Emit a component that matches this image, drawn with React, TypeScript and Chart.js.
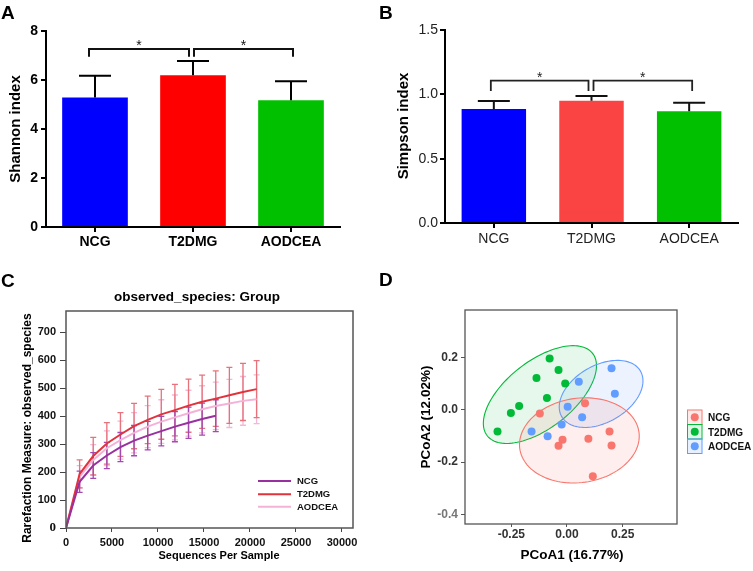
import React, { useEffect, useRef } from 'react';
import { Chart, registerables } from 'chart.js';
Chart.register(...registerables);

const FONT = "'Liberation Sans', Arial, Helvetica, sans-serif";

// ---------- Panel A / B data ----------
const groups = ['NCG', 'T2DMG', 'AODCEA'];
const shannonMean = [5.29, 6.19, 5.17];
const shannonSd = [0.88, 0.59, 0.78];
const simpsonMean = [0.886, 0.951, 0.868];
const simpsonSd = [0.062, 0.036, 0.067];
const shannonTicks = [0, 2, 4, 6, 8];
const simpsonTicks = [0, 0.5, 1.0, 1.5];

// ---------- Panel C data (rarefaction) ----------
const depth = [0, 1480, 2960, 4440, 5920, 7400, 8880, 10360, 11840, 13320, 14800, 16280, 17760, 19240, 20720];
const ncgObs = [0, 165, 223, 259, 289, 312, 330, 346, 362, 376, 389, 401];
const ncgSd = [0, 38, 46, 47, 52, 54, 51, 53, 54, 56, 57, 57];
const t2dmgObs = [0, 193, 257, 302, 334, 364, 386, 406, 421, 437, 451, 462, 474, 486, 496];
const t2dmgSd = [0, 50, 67, 74, 78, 81, 85, 89, 92, 95, 95, 99, 100, 102, 102];
const aodceaObs = [0, 183, 243, 285, 314, 340, 362, 380, 395, 410, 424, 436, 445, 454, 460];
const aodceaSd = [0, 40, 55, 62, 68, 72, 75, 78, 80, 82, 84, 85, 86, 87, 87];
const seqTicks = [0, 5000, 10000, 15000, 20000, 25000, 30000];
const obsTicks = [0, 100, 200, 300, 400, 500, 600, 700];

// ---------- Panel D data (PCoA) ----------
const ncgPc1 = [0.081, -0.122, -0.020, -0.038, 0.096, 0.191, 0.200, 0.116];
const ncgPc2 = [0.026, -0.014, -0.114, -0.137, -0.110, -0.083, -0.136, -0.254];
const t2dmgPc1 = [-0.312, -0.252, -0.215, -0.137, -0.078, -0.038, -0.008, -0.090];
const t2dmgPc2 = [-0.083, -0.012, 0.015, 0.122, 0.197, 0.153, 0.101, 0.046];
const aodceaPc1 = [0.200, 0.215, 0.053, 0.003, 0.068, -0.024, -0.159, -0.087];
const aodceaPc2 = [0.160, 0.062, 0.108, 0.012, -0.028, -0.056, -0.083, -0.101];
// ellipse: center (cx, cy), semi-axis vectors u and v, in data units
const ncgEllipse = [0.0556, -0.1167, 0.2676, 0.0321, 0.0263, -0.16];
const t2dmgEllipse = [-0.1216, 0.059, 0.2366, 0.1578, 0.0925, -0.101];
const aodceaEllipse = [0.1532, 0.0615, 0.1769, 0.0872, 0.0638, -0.0944];
const pc1Ticks = [-0.25, 0, 0.25];
const pc2Ticks = [-0.4, -0.2, 0, 0.2];

type TextItem = {
  text: string; x: number; y: number; size: number; weight?: string; color?: string;
  rotate?: boolean; align?: CanvasTextAlign; baseline?: CanvasTextBaseline; family?: string;
};

const textPlugin = (items: TextItem[]) => ({
  id: 'texts',
  afterDraw(chart: any) {
    const ctx = chart.ctx as CanvasRenderingContext2D;
    items.forEach((t) => {
      ctx.save();
      ctx.font = `${t.weight || 'bold'} ${t.size}px ${t.family || FONT}`;
      ctx.fillStyle = t.color || '#000';
      ctx.textAlign = t.align || 'center';
      ctx.textBaseline = t.baseline || 'middle';
      ctx.translate(t.x, t.y);
      if (t.rotate) ctx.rotate(-Math.PI / 2);
      ctx.fillText(t.text, 0, 0);
      ctx.restore();
    });
  },
});

const barErrPlugin = (sd: number[], capHalf: number, color: string) => ({
  id: 'barErr',
  afterDatasetsDraw(chart: any) {
    const ctx = chart.ctx as CanvasRenderingContext2D;
    const meta = chart.getDatasetMeta(0);
    const ys = chart.scales.y;
    const vals = chart.data.datasets[0].data as number[];
    ctx.save();
    ctx.strokeStyle = color;
    ctx.lineWidth = 2;
    meta.data.forEach((el: any, i: number) => {
      const x = el.x;
      const y0 = ys.getPixelForValue(vals[i]);
      const y1 = ys.getPixelForValue(vals[i] + sd[i]);
      ctx.beginPath();
      ctx.moveTo(x, y0);
      ctx.lineTo(x, y1);
      ctx.moveTo(x - capHalf, y1);
      ctx.lineTo(x + capHalf, y1);
      ctx.stroke();
    });
    ctx.restore();
  },
});

const bracketPlugin = (
  defs: { a: number; b: number; da: number; db: number }[],
  yTop: number, yDrop: number, lw: number, color: string
) => ({
  id: 'brackets',
  afterDraw(chart: any) {
    const ctx = chart.ctx as CanvasRenderingContext2D;
    const ys = chart.scales.y;
    const meta = chart.getDatasetMeta(0);
    const top = ys.getPixelForValue(yTop);
    const drop = ys.getPixelForValue(yDrop);
    ctx.save();
    ctx.strokeStyle = color;
    ctx.lineWidth = lw;
    defs.forEach((d) => {
      const xa = meta.data[d.a].x + d.da;
      const xb = meta.data[d.b].x + d.db;
      ctx.beginPath();
      ctx.moveTo(xa, drop);
      ctx.lineTo(xa, top);
      ctx.lineTo(xb, top);
      ctx.lineTo(xb, drop);
      ctx.stroke();
      ctx.font = `14px ${FONT}`;
      ctx.fillStyle = color;
      ctx.textAlign = 'center';
      ctx.textBaseline = 'alphabetic';
      ctx.fillText('*', (xa + xb) / 2, top + 1);
    });
    ctx.restore();
  },
});

const boxPlugin = (color: string, lw: number) => ({
  id: 'box',
  afterDraw(chart: any) {
    const { left, top, right, bottom } = chart.chartArea;
    const ctx = chart.ctx as CanvasRenderingContext2D;
    ctx.save();
    ctx.strokeStyle = color;
    ctx.lineWidth = lw;
    ctx.strokeRect(left, top, right - left, bottom - top);
    ctx.restore();
  },
});

const C_NCG = '#98309F';
const C_T2 = '#E2323C';
const C_AO = '#F4B2D8';
const E_NCG = '#A24AB0';
const E_T2 = '#E8727C';
const E_AO = '#F3B8D6';

const rareErrPlugin = {
  id: 'rareErr',
  beforeDatasetsDraw(chart: any) {
    const ctx = chart.ctx as CanvasRenderingContext2D;
    const xs = chart.scales.x;
    const ys = chart.scales.y;
    const series: [number[], number[], string][] = [
      [aodceaObs, aodceaSd, E_AO],
      [t2dmgObs, t2dmgSd, E_T2],
      [ncgObs, ncgSd, E_NCG],
    ];
    ctx.save();
    ctx.lineWidth = 1.3;
    series.forEach(([obs, sd, col]) => {
      ctx.strokeStyle = col;
      for (let i = 1; i < obs.length; i++) {
        const x = xs.getPixelForValue(depth[i]);
        const y1 = ys.getPixelForValue(obs[i] + sd[i]);
        const y2 = ys.getPixelForValue(obs[i] - sd[i]);
        ctx.beginPath();
        ctx.moveTo(x, y1);
        ctx.lineTo(x, y2);
        ctx.moveTo(x - 3, y1);
        ctx.lineTo(x + 3, y1);
        ctx.moveTo(x - 3, y2);
        ctx.lineTo(x + 3, y2);
        ctx.stroke();
      }
    });
    ctx.restore();
  },
};

const rareLegend = {
  id: 'rareLegend',
  afterDraw(chart: any) {
    const ctx = chart.ctx as CanvasRenderingContext2D;
    const items: [string, string, number][] = [
      ['NCG', C_NCG, 211],
      ['T2DMG', C_T2, 224.3],
      ['AODCEA', C_AO, 236.7],
    ];
    ctx.save();
    items.forEach(([t, c, y]) => {
      ctx.strokeStyle = c;
      ctx.lineWidth = 2;
      ctx.beginPath();
      ctx.moveTo(258, y);
      ctx.lineTo(291, y);
      ctx.stroke();
      ctx.fillStyle = '#111';
      ctx.font = `bold 9.5px ${FONT}`;
      ctx.textAlign = 'left';
      ctx.textBaseline = 'middle';
      ctx.fillText(t, 297, y + 0.5);
    });
    ctx.restore();
  },
};

const P_NCG = '#F8766D';
const P_T2 = '#00BA38';
const P_AO = '#619CFF';

const ellipsePlugin = {
  id: 'ellipses',
  beforeDatasetsDraw(chart: any) {
    const ctx = chart.ctx as CanvasRenderingContext2D;
    const xs = chart.scales.x;
    const ys = chart.scales.y;
    const defs: [number[], string, string][] = [
      [t2dmgEllipse, P_T2, 'rgba(0,186,56,0.10)'],
      [aodceaEllipse, P_AO, 'rgba(97,156,255,0.12)'],
      [ncgEllipse, P_NCG, 'rgba(248,118,109,0.12)'],
    ];
    ctx.save();
    defs.forEach(([e, stroke, fill]) => {
      const [cx, cy, ux, uy, vx, vy] = e;
      ctx.beginPath();
      for (let k = 0; k <= 120; k++) {
        const t = (k / 120) * Math.PI * 2;
        const px = xs.getPixelForValue(cx + ux * Math.cos(t) + vx * Math.sin(t));
        const py = ys.getPixelForValue(cy + uy * Math.cos(t) + vy * Math.sin(t));
        if (k === 0) ctx.moveTo(px, py);
        else ctx.lineTo(px, py);
      }
      ctx.closePath();
      ctx.fillStyle = fill;
      ctx.fill();
      ctx.strokeStyle = stroke;
      ctx.lineWidth = 1.1;
      ctx.stroke();
    });
    ctx.restore();
  },
};

const pcoaLegend = {
  id: 'pcoaLegend',
  afterDraw(chart: any) {
    const ctx = chart.ctx as CanvasRenderingContext2D;
    const items: [string, string, string, number][] = [
      ['NCG', P_NCG, 'rgba(248,118,109,0.15)', 140],
      ['T2DMG', P_T2, 'rgba(0,186,56,0.12)', 154.5],
      ['AODCEA', P_AO, 'rgba(97,156,255,0.15)', 169],
    ];
    ctx.save();
    items.forEach(([t, c, f, y]) => {
      ctx.fillStyle = f;
      ctx.fillRect(311.5, y, 14.5, 14.5);
      ctx.strokeStyle = c;
      ctx.lineWidth = 1;
      ctx.strokeRect(311.5, y, 14.5, 14.5);
      ctx.fillStyle = c;
      ctx.beginPath();
      ctx.arc(318.75, y + 7.25, 4, 0, Math.PI * 2);
      ctx.fill();
      ctx.fillStyle = '#111';
      ctx.font = `bold 10px ${FONT}`;
      ctx.textAlign = 'left';
      ctx.textBaseline = 'middle';
      ctx.fillText(t, 332, y + 8.5);
    });
    ctx.restore();
  },
};

const setTicks = (arr: number[]) => (s: any) => {
  s.ticks = arr.map((v) => ({ value: v }));
};

function makeA(): any {
  return {
    type: 'bar',
    data: {
      labels: groups,
      datasets: [{
        data: shannonMean,
        backgroundColor: ['#0000FF', '#FF0000', '#00C000'],
        borderWidth: 0,
        barPercentage: 0.67,
        categoryPercentage: 1,
      }],
    },
    options: {
      animation: false,
      responsive: false,
      layout: { padding: { left: 0, top: 31, right: 36, bottom: 13 } },
      plugins: { legend: { display: false }, tooltip: { enabled: false } },
      scales: {
        x: {
          grid: { offset: false, drawOnChartArea: false, drawTicks: true, tickLength: 5, color: '#000', lineWidth: 2 },
          border: { color: '#000', width: 2 },
          ticks: { font: { family: FONT, weight: 'bold', size: 14 }, color: '#000', padding: 2 },
          afterFit: (s: any) => { s.height = 30; },
        },
        y: {
          min: 0, max: 8,
          afterBuildTicks: setTicks(shannonTicks),
          grid: { drawOnChartArea: false, drawTicks: true, tickLength: 5, color: '#000', lineWidth: 2 },
          border: { color: '#000', width: 2 },
          ticks: { font: { family: FONT, weight: 'bold', size: 14 }, color: '#000', padding: 3 },
          afterFit: (s: any) => { s.width = 46; },
        },
      },
    },
    plugins: [
      barErrPlugin(shannonSd, 16, '#000'),
      bracketPlugin([{ a: 0, b: 1, da: -6, db: -4 }, { a: 1, b: 2, da: 1, db: 2 }], 7.27, 6.95, 2, '#111'),
      textPlugin([
        { text: 'A', x: 1, y: 18.5, size: 19, align: 'left', baseline: 'alphabetic' },
        { text: 'Shannon index', x: 16, y: 129, size: 15, rotate: true },
      ]),
    ],
  };
}

function makeB(): any {
  return {
    type: 'bar',
    data: {
      labels: groups,
      datasets: [{
        data: simpsonMean,
        backgroundColor: ['#0000FF', '#FA4343', '#00C000'],
        borderWidth: 0,
        barPercentage: 0.66,
        categoryPercentage: 1,
      }],
    },
    options: {
      animation: false,
      responsive: false,
      layout: { padding: { left: 0, top: 30, right: 15, bottom: 17 } },
      plugins: { legend: { display: false }, tooltip: { enabled: false } },
      scales: {
        x: {
          grid: { offset: false, drawOnChartArea: false, drawTicks: true, tickLength: 5, color: '#000', lineWidth: 2 },
          border: { color: '#000', width: 2 },
          ticks: { font: { family: FONT, size: 14 }, color: '#222', padding: 3 },
          afterFit: (s: any) => { s.height = 30; },
        },
        y: {
          min: 0, max: 1.5,
          afterBuildTicks: setTicks(simpsonTicks),
          grid: { drawOnChartArea: false, drawTicks: true, tickLength: 5, color: '#000', lineWidth: 2 },
          border: { color: '#000', width: 2 },
          ticks: { font: { family: FONT, size: 14 }, color: '#222', padding: 2, callback: (v: any) => Number(v).toFixed(1) },
          afterFit: (s: any) => { s.width = 69; },
        },
      },
    },
    plugins: [
      barErrPlugin(simpsonSd, 16, '#111'),
      bracketPlugin([{ a: 0, b: 1, da: -3, db: -3 }, { a: 1, b: 2, da: 2, db: 3 }], 1.106, 1.026, 1.8, '#222'),
      textPlugin([
        { text: 'B', x: 3, y: 18.5, size: 19, align: 'left', baseline: 'alphabetic' },
        { text: 'Simpson index', x: 27.5, y: 126, size: 15, rotate: true },
      ]),
    ],
  };
}

function makeC(): any {
  const pts = (obs: number[]) => obs.map((y, i) => ({ x: depth[i], y }));
  return {
    type: 'line',
    data: {
      datasets: [
        { label: 'NCG', data: pts(ncgObs), borderColor: C_NCG, borderWidth: 2, pointRadius: 0, tension: 0, fill: false },
        { label: 'T2DMG', data: pts(t2dmgObs), borderColor: C_T2, borderWidth: 2, pointRadius: 0, tension: 0, fill: false },
        { label: 'AODCEA', data: pts(aodceaObs), borderColor: C_AO, borderWidth: 2, pointRadius: 0, tension: 0, fill: false },
      ],
    },
    options: {
      animation: false,
      responsive: false,
      layout: { padding: { left: 0, top: 41, right: 23, bottom: 13 } },
      plugins: { legend: { display: false }, tooltip: { enabled: false } },
      scales: {
        x: {
          type: 'linear', min: 0, max: 31200,
          afterBuildTicks: setTicks(seqTicks),
          grid: { drawOnChartArea: false, drawTicks: true, tickLength: 4, color: '#444', lineWidth: 1 },
          border: { display: false },
          ticks: { font: { family: FONT, weight: 'bold', size: 11 }, color: '#111', padding: 4, callback: (v: any) => String(v) },
          afterFit: (s: any) => { s.height = 30; },
        },
        y: {
          min: 0, max: 775,
          afterBuildTicks: setTicks(obsTicks),
          grid: { drawOnChartArea: false, drawTicks: true, tickLength: 6, color: '#444', lineWidth: 1 },
          border: { display: false },
          ticks: {
            font: (c: any) => (c.tick && c.tick.value === 0
              ? { family: "'Liberation Serif', 'Times New Roman', serif", weight: 'bold', size: 13 }
              : { family: FONT, weight: 'bold', size: 11 }),
            color: '#111', padding: 4, callback: (v: any) => String(v),
          },
          afterFit: (s: any) => { s.width = 66; },
        },
      },
    },
    plugins: [
      rareErrPlugin,
      boxPlugin('#555', 1.5),
      rareLegend,
      textPlugin([
        { text: 'C', x: 1, y: 17, size: 19, align: 'left', baseline: 'alphabetic' },
        { text: 'observed_species: Group', x: 197, y: 27, size: 13.5 },
        { text: 'Rarefaction Measure: observed_species', x: 28, y: 158, size: 12, rotate: true },
        { text: 'Sequences Per Sample', x: 219, y: 286, size: 11 },
      ]),
    ],
  };
}

function makeD(): any {
  const pts = (xs: number[], ys: number[]) => xs.map((x, i) => ({ x, y: ys[i] }));
  return {
    type: 'scatter',
    data: {
      datasets: [
        { label: 'AODCEA', data: pts(aodceaPc1, aodceaPc2), backgroundColor: P_AO, borderWidth: 0, pointRadius: 4 },
        { label: 'T2DMG', data: pts(t2dmgPc1, t2dmgPc2), backgroundColor: P_T2, borderWidth: 0, pointRadius: 4 },
        { label: 'NCG', data: pts(ncgPc1, ncgPc2), backgroundColor: P_NCG, borderWidth: 0, pointRadius: 4 },
      ],
    },
    options: {
      animation: false,
      responsive: false,
      layout: { padding: { left: 0, top: 40, right: 76, bottom: 7 } },
      plugins: { legend: { display: false }, tooltip: { enabled: false } },
      scales: {
        x: {
          type: 'linear', min: -0.458, max: 0.494,
          afterBuildTicks: setTicks(pc1Ticks),
          grid: { drawOnChartArea: false, drawTicks: true, tickLength: 3, color: '#555', lineWidth: 1 },
          border: { display: false },
          ticks: { font: { family: FONT, weight: 'bold', size: 12 }, color: '#333', padding: 0, callback: (v: any) => Number(v).toFixed(2) },
          afterFit: (s: any) => { s.height = 40; },
        },
        y: {
          min: -0.437, max: 0.383,
          afterBuildTicks: setTicks(pc2Ticks),
          grid: { drawOnChartArea: false, drawTicks: true, tickLength: 4, color: '#555', lineWidth: 1 },
          border: { display: false },
          ticks: {
            font: { family: FONT, weight: 'bold', size: 12 },
            color: (c: any) => (c.tick && c.tick.value < -0.3 ? '#777' : '#333'),
            padding: 3,
            callback: (v: any) => Number(v).toFixed(1),
          },
          afterFit: (s: any) => { s.width = 89; },
        },
      },
    },
    plugins: [
      ellipsePlugin,
      boxPlugin('#555', 1.3),
      pcoaLegend,
      textPlugin([
        { text: 'D', x: 3, y: 16, size: 19, align: 'left', baseline: 'alphabetic' },
        { text: 'PCoA1 (16.77%)', x: 196, y: 285, size: 13.5 },
        { text: 'PCoA2 (12.02%)', x: 50.5, y: 147, size: 13.5, rotate: true },
      ]),
    ],
  };
}

function ChartBox(props: { make: () => any; left: number; top: number; width: number; height: number }) {
  const ref = useRef<HTMLCanvasElement>(null);
  useEffect(() => {
    const chart = new Chart(ref.current as HTMLCanvasElement, props.make());
    return () => chart.destroy();
  }, []);
  return (
    <canvas
      ref={ref}
      width={props.width}
      height={props.height}
      style={{ position: 'absolute', left: props.left, top: props.top, width: props.width, height: props.height }}
    />
  );
}

export default function App() {
  return (
    <div style={{ position: 'absolute', left: 0, top: 0, width: 753, height: 571, background: '#fff', overflow: 'hidden' }}>
      <ChartBox make={makeA} left={0} top={0} width={376} height={270} />
      <ChartBox make={makeB} left={376} top={0} width={377} height={270} />
      <ChartBox make={makeC} left={0} top={270} width={376} height={301} />
      <ChartBox make={makeD} left={376} top={270} width={377} height={301} />
    </div>
  );
}
